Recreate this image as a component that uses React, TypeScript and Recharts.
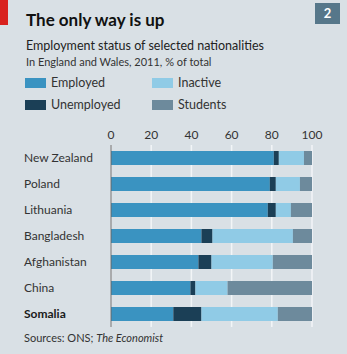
import React from "react";
import { BarChart, Bar, XAxis, YAxis, CartesianGrid } from "recharts";

const countries = ["New Zealand", "Poland", "Lithuania", "Bangladesh", "Afghanistan", "China", "Somalia"];
const employed = [81, 79, 78, 45, 43.5, 39.5, 31];
const unemployed = [2.5, 3, 4, 5.5, 6.5, 2.5, 14];
const inactive = [12.5, 12, 7.5, 40, 30.5, 16, 38];
const students = [4, 6, 10.5, 9.5, 19.5, 42, 17];
const xTicks = [0, 20, 40, 60, 80, 100];

const data = countries.map((c, i) => ({
  name: c,
  employed: employed[i],
  unemployed: unemployed[i],
  inactive: inactive[i],
  students: students[i],
}));

const COLORS = {
  employed: "#3a93c1",
  unemployed: "#1b3f56",
  inactive: "#90cbe6",
  students: "#6d8a9c",
};

const FONT = "Lato, 'Open Sans', sans-serif";
const BG = "#d9e0e5";

const CatTick = (props: any) => {
  const { y, payload } = props;
  const bold = payload.value === "Somalia";
  return (
    <text x={24} y={y} dy={4} textAnchor="start" fontSize={12} fontFamily={FONT}
      fontWeight={bold ? 700 : 400} fill={bold ? "#1a1a1a" : "#333"}>
      {payload.value}
    </text>
  );
};

const legendItems = [
  { key: "employed", label: "Employed", x: 25, y: 78 },
  { key: "inactive", label: "Inactive", x: 152, y: 78 },
  { key: "unemployed", label: "Unemployed", x: 25, y: 100 },
  { key: "students", label: "Students", x: 152, y: 100 },
];

export default function App() {
  return (
    <div style={{ position: "absolute", left: 0, top: 0, width: 347, height: 354, background: BG, overflow: "hidden", fontFamily: FONT }}>
      <div style={{ position: "absolute", left: 0, top: 0, width: 8, height: 25, background: "#d9221e" }} />
      <div style={{ position: "absolute", left: 315, top: 3, width: 25, height: 21, background: "#56778a", color: "#fff", fontWeight: 700, fontSize: 13, textAlign: "center", lineHeight: "21px" }}>2</div>
      <div style={{ position: "absolute", left: 26, top: 9, fontSize: 17, fontWeight: 700, color: "#111", whiteSpace: "nowrap" }}>The only way is up</div>
      <div style={{ position: "absolute", left: 26, top: 38, fontSize: 12.5, color: "#222", whiteSpace: "nowrap" }}>Employment status of selected nationalities</div>
      <div style={{ position: "absolute", left: 26, top: 55, fontSize: 11, color: "#333", whiteSpace: "nowrap" }}>In England and Wales, 2011, % of total</div>
      {legendItems.map((it) => (
        <div key={it.key} style={{ position: "absolute", left: it.x, top: it.y, display: "flex", alignItems: "center", whiteSpace: "nowrap" }}>
          <div style={{ width: 21, height: 10, background: (COLORS as any)[it.key], marginRight: 5 }} />
          <span style={{ fontSize: 12.5, color: "#333", lineHeight: "10px" }}>{it.label}</span>
        </div>
      ))}
      <div style={{ position: "absolute", left: 0, top: 0 }}>
        <BarChart width={347} height={354} data={data} layout="vertical" barSize={14}
          margin={{ top: 125, right: 35, bottom: 27, left: 0 }}>
          <CartesianGrid horizontal={false} vertical={true} stroke="#f2f5f7" strokeWidth={1.5} />
          <XAxis type="number" orientation="top" domain={[0, 100]} ticks={xTicks} height={20}
            axisLine={false} tickLine={false} tickMargin={0}
            tick={{ fontSize: 12, fill: "#333", fontFamily: FONT }} />
          <YAxis type="category" dataKey="name" width={111} axisLine={{ stroke: "#666", strokeWidth: 1 }}
            tickLine={false} tick={<CatTick />} />
          <Bar dataKey="employed" stackId="a" fill={COLORS.employed} isAnimationActive={false} />
          <Bar dataKey="unemployed" stackId="a" fill={COLORS.unemployed} isAnimationActive={false} />
          <Bar dataKey="inactive" stackId="a" fill={COLORS.inactive} isAnimationActive={false} />
          <Bar dataKey="students" stackId="a" fill={COLORS.students} isAnimationActive={false} />
        </BarChart>
      </div>
      <div style={{ position: "absolute", left: 24, top: 331, fontSize: 11, color: "#333", whiteSpace: "nowrap" }}>
        Sources: ONS; <i>The Economist</i>
      </div>
    </div>
  );
}
